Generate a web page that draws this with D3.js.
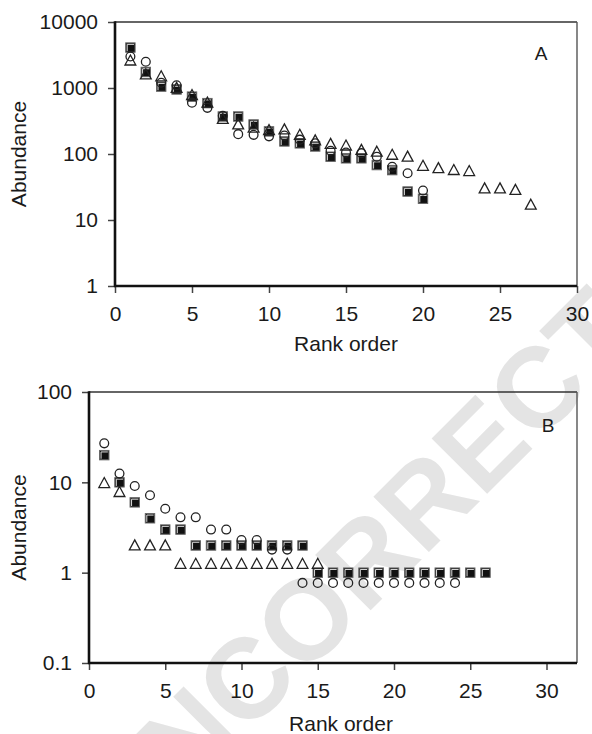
<!DOCTYPE html>
<html>
<head>
<meta charset="utf-8">
<script src="https://cdn.jsdelivr.net/npm/d3@7/dist/d3.min.js"></script>
<style>
  body { margin: 0; background: #fff; }
  svg { display: block; font-family: "Liberation Sans", Arial, Helvetica, sans-serif; }
</style>
</head>
<body>
<svg id="chart"></svg>
<script>
const W = 592, H = 734;

// Panel A: abundance by rank (three samples)
const circlesA = [3000, 2500, 1200, 1100, 600, 500, 380, 200, 195, 185, 190, 165, 145, 112, 105, 103, 91, 64, 51, 28];
const squaresA = [4100, 1750, 1050, 950, 740, 590, 370, 370, 280, 220, 155, 145, 130, 91, 86, 86, 68, 57, 27, 21];
const trianglesA = [2600, 1600, 1500, 1000, 780, 600, 340, 280, 250, 230, 235, 195, 160, 142, 134, 115, 108, 97, 91, 66, 61, 57, 55, 30, 30, 28.5, 17];

// Panel B
const circlesB = [27, 12.5, 9.1, 7.2, 5.1, 4.1, 4.1, 3, 3, 2.3, 2.3, 1.8, 1.8, 0.77, 0.77, 0.77, 0.77, 0.77, 0.77, 0.77, 0.77, 0.77, 0.77, 0.77];
const squaresB = [20, 10, 6, 4, 3, 3, 2, 2, 2, 2, 2, 2, 2, 2, 1, 1, 1, 1, 1, 1, 1, 1, 1, 1, 1, 1];
const trianglesB = [9.8, 7.8, 2, 2, 2, 1.25, 1.25, 1.25, 1.25, 1.25, 1.25, 1.25, 1.25, 1.25, 1.25];

const xTicks = [0, 5, 10, 15, 20, 25, 30];
const yTicksA = [1, 10, 100, 1000, 10000];
const yTicksB = [0.1, 1, 10, 100];

const svg = d3.select('#chart').attr('width', W).attr('height', H);

// faint watermark behind everything
svg.append('text')
  .attr('transform', 'translate(128, 853) rotate(-45)')
  .style('font-family', '"Liberation Sans", Arial, sans-serif')
  .style('font-size', '114px')
  .style('font-weight', 700)
  .style('fill', '#e4e4e4')
  .text('UNCORRECTED PROOF');

const toPts = vals => vals.map((v, i) => ({ r: i + 1, v }));

const drawPanel = (p) => {
  const x = d3.scaleLinear().domain(p.xDomain).range([p.left, p.right]);
  const y = d3.scaleLog().domain(p.yDomain).range([p.bottom, p.top]);
  const g = svg.append('g');

  // axes (ticks + labels only, frame drawn below)
  const gx = g.append('g')
    .attr('transform', `translate(0, ${p.bottom})`)
    .call(d3.axisBottom(x).tickValues(xTicks).tickSize(7).tickPadding(13).tickSizeOuter(0).tickFormat(d3.format('d')));
  const gy = g.append('g')
    .attr('transform', `translate(${p.left}, 0)`)
    .call(d3.axisLeft(y).tickValues(p.yTicks).tickSize(7).tickPadding(10).tickSizeOuter(0).tickFormat(d => String(d)));
  [gx, gy].forEach(a => {
    a.attr('font-family', null).attr('font-size', null);
    a.select('.domain').remove();
    a.selectAll('.tick line').attr('stroke', '#444').attr('stroke-width', 1.5);
    a.selectAll('.tick text').attr('fill', '#1a1a1a').style('font-size', '21px');
  });

  // frame: thin top/right, heavy left/bottom
  g.append('line').attr('x1', p.left).attr('x2', p.right).attr('y1', p.top).attr('y2', p.top)
    .attr('stroke', '#333').attr('stroke-width', 1.6);
  g.append('line').attr('x1', p.right).attr('x2', p.right).attr('y1', p.top).attr('y2', p.bottom)
    .attr('stroke', '#555').attr('stroke-width', 1.4);
  g.append('line').attr('x1', p.left).attr('x2', p.left).attr('y1', p.top - 0.8).attr('y2', p.bottom + 1)
    .attr('stroke', '#111').attr('stroke-width', 2.6);
  g.append('line').attr('x1', p.left - 1).attr('x2', p.right).attr('y1', p.bottom).attr('y2', p.bottom)
    .attr('stroke', '#111').attr('stroke-width', 2.6);

  // filled squares
  const sq = g.append('g').selectAll('g').data(toPts(p.squares)).join('g')
    .attr('transform', d => `translate(${x(d.r)}, ${y(d.v)})`);
  sq.append('rect').attr('x', -4.7).attr('y', -4.7).attr('width', 9.4).attr('height', 9.4)
    .attr('fill', '#111').attr('stroke', '#666').attr('stroke-width', 1);
  sq.append('path').attr('d', 'M -3.2 3.6 L -3.2 -3.2 L 3.6 -3.2')
    .attr('fill', 'none').attr('stroke', '#ddd').attr('stroke-width', 1);

  // open triangles
  g.append('g').selectAll('path').data(toPts(p.triangles)).join('path')
    .attr('transform', d => `translate(${x(d.r)}, ${y(d.v)})`)
    .attr('d', 'M 0 -5.6 L 5.4 4.4 L -5.4 4.4 Z')
    .attr('fill', 'none').attr('stroke', '#222').attr('stroke-width', 1.3);

  // open circles
  g.append('g').selectAll('circle').data(toPts(p.circles)).join('circle')
    .attr('cx', d => x(d.r)).attr('cy', d => y(d.v)).attr('r', 4.4)
    .attr('fill', 'none').attr('stroke', '#222').attr('stroke-width', 1.3);

  // labels
  g.append('text').attr('x', p.xLabelX).attr('y', p.xLabelY).attr('text-anchor', 'middle')
    .style('font-size', '21px').attr('fill', '#1a1a1a').text('Rank order');
  g.append('text').attr('transform', `translate(26, ${(p.top + p.bottom) / 2}) rotate(-90)`)
    .attr('text-anchor', 'middle').style('font-size', '21px').attr('fill', '#1a1a1a').text('Abundance');
  g.append('text').attr('x', p.letter[0]).attr('y', p.letter[1]).attr('text-anchor', 'middle')
    .style('font-size', '19px').attr('fill', '#1a1a1a').text(p.name);
};

drawPanel({
  name: 'A', left: 115, right: 577, top: 22, bottom: 286,
  xDomain: [0, 30], yDomain: [1, 10000], yTicks: yTicksA,
  circles: circlesA, squares: squaresA, triangles: trianglesA,
  xLabelX: 346, xLabelY: 351, letter: [541, 60],
});

drawPanel({
  name: 'B', left: 89, right: 577, top: 392, bottom: 663,
  xDomain: [0, 32], yDomain: [0.1, 100], yTicks: yTicksB,
  circles: circlesB, squares: squaresB, triangles: trianglesB,
  xLabelX: 341, xLabelY: 731, letter: [548, 432],
});
</script>
</body>
</html>
